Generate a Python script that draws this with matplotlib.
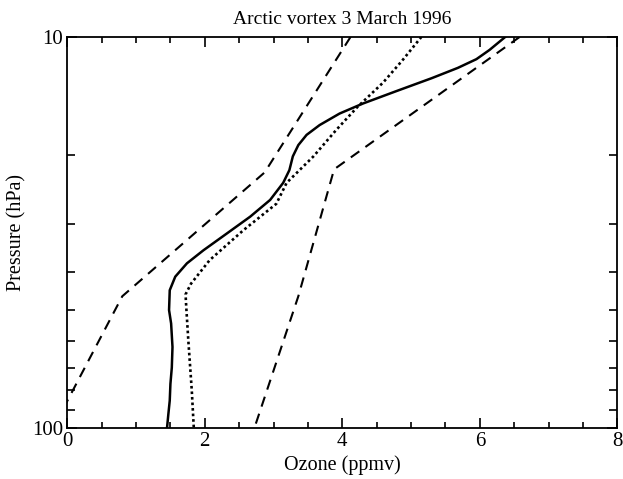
import matplotlib
matplotlib.use("Agg")
import matplotlib.pyplot as plt
from matplotlib.ticker import FixedLocator, NullFormatter, FormatStrFormatter

plt.rcParams['font.family'] = ['Liberation Serif', 'DejaVu Serif']

# mean profile (solid)
mean_p = [10, 10.8, 11.4, 12.0, 12.75, 13.75, 14.8, 15.7, 16.8, 17.8, 18.9, 20.2,
          21.9, 23.6, 26.1, 28.8, 31.8, 35.1, 37.9, 41.0, 44.4, 49.9, 54, 62,
          70, 77, 85, 92, 100]
mean_o3 = [6.37, 6.14, 5.95, 5.68, 5.30, 4.79, 4.30, 3.96, 3.67, 3.48, 3.36, 3.28,
           3.23, 3.14, 2.95, 2.66, 2.32, 1.98, 1.74, 1.57, 1.49, 1.48, 1.51, 1.53,
           1.52, 1.50, 1.49, 1.47, 1.45]

# model / reference profile (dotted)
dot_p = [10, 11.5, 13.1, 15.1, 17.3, 20.2, 23.6, 26.7, 31.2, 37.2, 42.7,
         45.5, 49, 59.6, 79.8, 100]
dot_o3 = [5.15, 4.87, 4.59, 4.22, 3.91, 3.58, 3.19, 3.04, 2.56, 2.07, 1.80,
          1.72, 1.73, 1.76, 1.81, 1.84]

# envelope (dashed)
low_p = [10, 22.2, 46, 92]
low_o3 = [4.12, 2.87, 0.80, -0.1]
high_p = [10, 21.8, 46, 100]
high_o3 = [6.58, 3.88, 3.36, 2.72]

fig = plt.figure(figsize=(6.23, 4.79), dpi=100)
ax = fig.add_axes([0.108, 0.106, 0.883, 0.817])

ax.plot(mean_o3, mean_p, color='black', lw=1.8)
ax.plot(dot_o3, dot_p, color='black', lw=1.9, linestyle=(0, (1, 1.1)))
ax.plot(low_o3, low_p, color='black', lw=1.5, linestyle=(0, (5, 3.6)))
ax.plot(high_o3, high_p, color='black', lw=1.5, linestyle=(0, (5, 3.6)))

ax.set_yscale('log')
ax.set_ylim(100, 10)
ax.set_xlim(0, 8)

ax.yaxis.set_major_locator(FixedLocator([10, 100]))
ax.yaxis.set_major_formatter(FormatStrFormatter('%d'))
ax.yaxis.set_minor_locator(FixedLocator([20, 30, 40, 50, 60, 70, 80, 90]))
ax.yaxis.set_minor_formatter(NullFormatter())
ax.xaxis.set_major_locator(FixedLocator([0, 2, 4, 6, 8]))
ax.xaxis.set_minor_locator(FixedLocator([0.5 * i for i in range(17)]))

ax.tick_params(which='both', direction='in', top=True, right=True,
               labelsize=15, width=1.2, pad=3)
ax.tick_params(which='major', length=7)
ax.tick_params(which='minor', length=4.5)
ax.tick_params(axis='y', which='minor', length=5.5)
for s in ax.spines.values():
    s.set_linewidth(1.3)

ax.set_title('Arctic vortex 3 March 1996', fontsize=14, pad=9)
ax.set_xlabel('Ozone (ppmv)', fontsize=14.5, labelpad=3)
ax.set_ylabel('Pressure (hPa)', fontsize=14.5, labelpad=4)

fig.savefig('out.png', dpi=100)
